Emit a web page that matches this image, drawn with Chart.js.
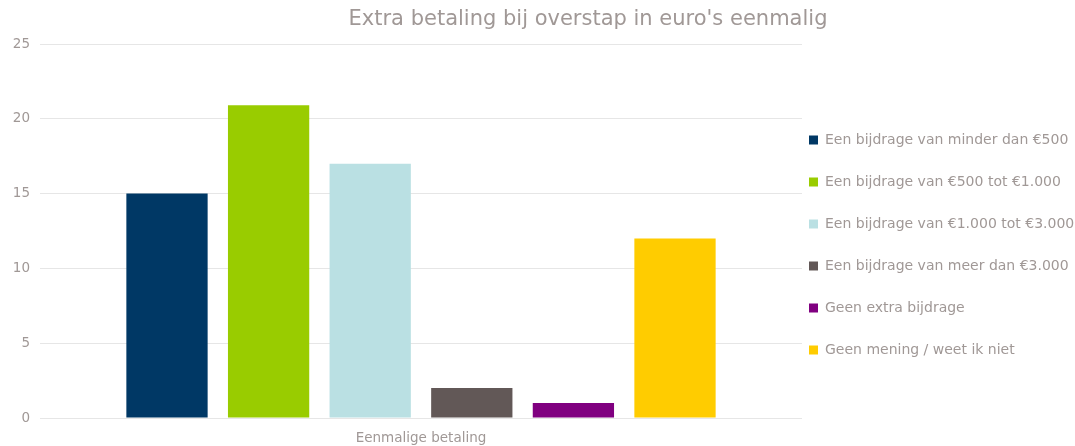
<!DOCTYPE html>
<html>
<head>
<meta charset="utf-8">
<script src="https://cdn.jsdelivr.net/npm/chart.js@4/dist/chart.umd.min.js"></script>
<style>
  html, body { margin: 0; padding: 0; background: #fff; }
  #wrap { width: 1075px; height: 446px; }
</style>
</head>
<body>
<div id="wrap"><canvas id="chart"></canvas></div>
<script>
const titleText = "Extra betaling bij overstap in euro's eenmalig";
const categories = ["Eenmalige betaling"];
const seriesNames = [
  "Een bijdrage van minder dan €500",
  "Een bijdrage van €500 tot €1.000",
  "Een bijdrage van €1.000 tot €3.000",
  "Een bijdrage van meer dan €3.000",
  "Geen extra bijdrage",
  "Geen mening / weet ik niet"
];
const seriesValues = [15, 20.9, 17, 2, 1, 12];
const seriesColors = ["#003865", "#99cc00", "#bae0e3", "#625857", "#800080", "#ffcc00"];

const textColor = "#a09896";
const font = "'DejaVu Sans', Verdana, sans-serif";
const legendPad = 28;

// title is drawn by hand, it sits right of the canvas centre in the original
const titlePlugin = {
  id: "offsetTitle",
  afterLayout(chart) {
    // legend items start a bit right of the plot, not a full padding away
    const lg = chart.legend;
    if (lg) {
      lg.left = 809 - legendPad;
      lg.right = chart.width;
      lg.width = lg.right - lg.left;
    }
  },
  afterDraw(chart) {
    const ctx = chart.ctx;
    ctx.save();
    ctx.font = "21px " + font;
    ctx.fillStyle = textColor;
    ctx.textAlign = "center";
    ctx.textBaseline = "middle";
    ctx.fillText(titleText, 588, 20);
    ctx.restore();
  }
};

new Chart(document.getElementById("chart"), {
  type: "bar",
  data: {
    labels: categories,
    datasets: seriesNames.map((name, i) => ({
      label: name,
      data: [seriesValues[i]],
      backgroundColor: seriesColors[i],
      borderWidth: 0
    }))
  },
  options: {
    responsive: true,
    maintainAspectRatio: false,
    animation: false,
    layout: { padding: { top: 44, bottom: 0, left: 0, right: 0 } },
    datasets: { bar: { categoryPercentage: 0.8, barPercentage: 0.8 } },
    scales: {
      x: {
        afterFit(scale) { scale.height = 28; },
        grid: { display: false, drawTicks: false },
        border: { display: false },
        ticks: { color: textColor, font: { family: font, size: 13.5 }, padding: 12 }
      },
      y: {
        min: 0,
        max: 25,
        afterFit(scale) { scale.width = 40; },
        grid: { color: "#e6e6e6", drawTicks: false },
        border: { display: false },
        ticks: { stepSize: 5, color: textColor, font: { family: font, size: 13.5 }, padding: 10 }
      }
    },
    plugins: {
      title: { display: false },
      tooltip: { enabled: false },
      legend: {
        position: "right",
        align: "center",
        maxWidth: 273,
        labels: {
          color: textColor,
          font: { family: font, size: 14 },
          boxWidth: 9,
          boxHeight: 9,
          padding: legendPad
        }
      }
    }
  },
  plugins: [titlePlugin]
});
</script>
</body>
</html>
